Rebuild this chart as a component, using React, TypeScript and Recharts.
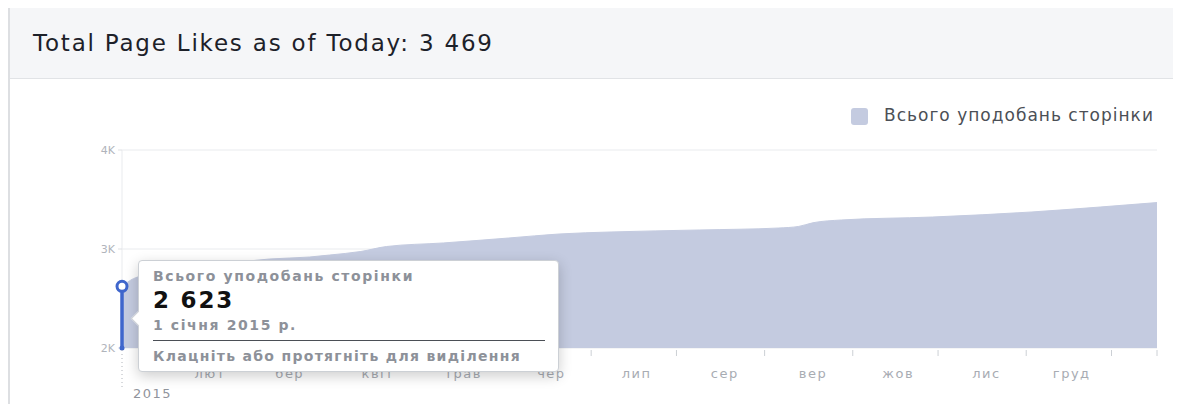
import React from 'react';
import {
  AreaChart,
  Area,
  XAxis,
  YAxis,
  CartesianGrid,
  Tooltip,
  ReferenceLine,
  ReferenceDot,
} from 'recharts';

// days since 1 Jan 2015 and total page likes on that day
const days = [0, 4, 7, 14, 21, 31, 42, 52, 66, 73, 84, 93, 113, 136, 154, 172, 203, 231, 238, 243, 253, 285, 320, 344, 364];
const likes = [2623, 2700, 2730, 2760, 2790, 2830, 2870, 2899, 2919, 2939, 2975, 3025, 3061, 3111, 3152, 3172, 3192, 3212, 3228, 3265, 3293, 3323, 3374, 3424, 3469];

const monthStarts = [0, 31, 59, 90, 120, 151, 181, 212, 243, 273, 304, 334];
const monthLabels = ['', 'лют', 'бер', 'квіт', 'трав', 'чер', 'лип', 'сер', 'вер', 'жов', 'лис', 'груд'];
const monthGenitive = ['січня', 'лютого', 'березня', 'квітня', 'травня', 'червня', 'липня', 'серпня', 'вересня', 'жовтня', 'листопада', 'грудня'];
const midMonthTicks = [14, 45, 73, 104, 134, 165, 195, 226, 257, 287, 318, 348, 364];
const yTicks = [2000, 3000, 4000];

const YEAR = 2015;
const TOTAL_TODAY = 3469;
const SERIES_NAME = 'Всього уподобань сторінки';

const FILL = '#c4cbe0';
const HANDLE = '#3f66cc';
const FONT = '"DejaVu Sans", sans-serif';

const data = days.map((d, i) => ({ day: d, likes: likes[i] }));

const fmt = (n: number) => n.toLocaleString('en-US').replace(/,/g, ' ');

const dayToDate = (d: number) => {
  const dt = new Date(YEAR, 0, 1 + d);
  return `${dt.getDate()} ${monthGenitive[dt.getMonth()]} ${dt.getFullYear()} р.`;
};

const XTick = ({ x, y, payload }: any) => {
  const v = payload.value;
  if (v === 0) {
    return (
      <g>
        <line x1={x} x2={x} y1={y + 2} y2={y + 40} stroke="#b0b4bb" strokeDasharray="1 3" />
        <text x={x + 11} y={y + 50} fill="#90949c" fontSize={13} fontFamily={FONT} letterSpacing={1.5}>
          {YEAR}
        </text>
      </g>
    );
  }
  const mi = monthStarts.indexOf(v);
  if (mi > 0) {
    return (
      <text x={x} y={y + 30} textAnchor="middle" fill="#a8acb3" fontSize={13} fontFamily={FONT} letterSpacing={1.5}>
        {monthLabels[mi]}
      </text>
    );
  }
  return <line x1={x} x2={x} y1={y + 2} y2={y + 8} stroke="#ccd0d5" />;
};

// the drag handle sitting on the first point
const Handle = ({ cx, cy }: any) => {
  if (cx == null || cy == null) return null;
  const bottom = 348;
  return (
    <g>
      <line x1={cx} x2={cx} y1={cy} y2={bottom} stroke={HANDLE} strokeWidth={3.5} />
      <circle cx={cx} cy={bottom} r={2.5} fill={HANDLE} />
      <circle cx={cx} cy={cy} r={5} fill="#fff" stroke={HANDLE} strokeWidth={3} />
    </g>
  );
};

const TipContent = ({ payload }: any) => {
  if (!payload || !payload.length) return null;
  const p = payload[0].payload;
  const grey = { color: '#8d9199', fontWeight: 700, fontSize: 14, letterSpacing: 1.6 };
  return (
    <div
      style={{
        position: 'relative',
        width: 421,
        height: 112,
        boxSizing: 'border-box',
        background: '#fff',
        border: '1px solid #ccd0d5',
        borderRadius: 4,
        boxShadow: '0 4px 14px rgba(0,0,0,0.2)',
        padding: '8px 14px 0 14px',
        fontFamily: FONT,
        lineHeight: 1,
      }}
    >
      <div
        style={{
          position: 'absolute',
          left: -6,
          top: 52,
          width: 10,
          height: 10,
          background: '#fff',
          borderLeft: '1px solid #ccd0d5',
          borderBottom: '1px solid #ccd0d5',
          transform: 'rotate(45deg)',
        }}
      />
      <div style={{ ...grey, height: 18 }}>{SERIES_NAME}</div>
      <div style={{ color: '#111', fontWeight: 700, fontSize: 23, letterSpacing: 1.8, height: 29, marginTop: 2 }}>
        {fmt(p.likes)}
      </div>
      <div style={{ ...grey, height: 16 }}>{dayToDate(p.day)}</div>
      <div style={{ borderTop: '1px solid #4b4f56', marginTop: 6, width: 392 }} />
      <div style={{ ...grey, marginTop: 8, letterSpacing: 1.3 }}>Клацніть або протягніть для виділення</div>
    </div>
  );
};

export default function App() {
  return (
    <div
      style={{
        position: 'relative',
        width: 1181,
        height: 404,
        margin: '-8px 0 0 -8px',
        overflow: 'hidden',
        background: '#fff',
        fontFamily: FONT,
      }}
    >
      <div style={{ position: 'absolute', left: 0, top: 0, width: 1181, height: 8, background: '#e9ebee' }} />
      <div
        style={{
          position: 'absolute',
          left: 8,
          top: 8,
          width: 1173,
          height: 396,
          borderLeft: '2px solid #dddfe2',
          boxSizing: 'border-box',
        }}
      >
        <div
          style={{
            height: 71,
            background: '#f5f6f8',
            borderBottom: '1px solid #e1e3e6',
            boxSizing: 'border-box',
            paddingLeft: 23,
            paddingTop: 24,
            fontSize: 23,
            letterSpacing: 1.8,
            color: '#1d2129',
            lineHeight: 1,
          }}
        >
          Total Page Likes as of Today: {fmt(TOTAL_TODAY)}
        </div>
      </div>

      <div style={{ position: 'absolute', left: 851, top: 108, width: 17, height: 17, borderRadius: 3, background: FILL }} />
      <div
        style={{
          position: 'absolute',
          left: 884,
          top: 106,
          fontSize: 17,
          letterSpacing: 1,
          color: '#4b4f56',
          lineHeight: 1.1,
        }}
      >
        {SERIES_NAME}
      </div>

      <div style={{ position: 'absolute', left: 0, top: 0 }}>
        <AreaChart width={1181} height={404} data={data} margin={{ top: 150, right: 24, bottom: 0, left: 82 }}>
          <CartesianGrid vertical={false} stroke="#e9ebee" />
          <XAxis
            dataKey="day"
            type="number"
            domain={[0, 364]}
            ticks={[...monthStarts, ...midMonthTicks]}
            interval={0}
            height={56}
            tickSize={0}
            tickMargin={0}
            tickLine={false}
            axisLine={false}
            tick={<XTick />}
          />
          <YAxis
            domain={[2000, 4000]}
            ticks={yTicks}
            width={40}
            tickSize={4}
            tickMargin={3}
            axisLine={{ stroke: '#e9ebee' }}
            tickLine={{ stroke: '#dfe1e4' }}
            tick={{ fill: '#b0b4bb', fontSize: 11, fontFamily: FONT }}
            tickFormatter={(v: number) => `${v / 1000}K`}
          />
          <Area
            type="monotone"
            dataKey="likes"
            name={SERIES_NAME}
            stroke={FILL}
            fill={FILL}
            fillOpacity={1}
            activeDot={false}
            isAnimationActive={false}
          />
          <ReferenceDot
            x={days[0]}
            y={likes[0]}
            ifOverflow="visible"
            shape={(props: any) => <Handle {...props} />}
          />
          <Tooltip
            active
            defaultIndex={0}
            cursor={false}
            position={{ x: 138, y: 260 }}
            content={<TipContent />}
            isAnimationActive={false}
            wrapperStyle={{ outline: 'none' }}
          />
        </AreaChart>
      </div>
    </div>
  );
}
